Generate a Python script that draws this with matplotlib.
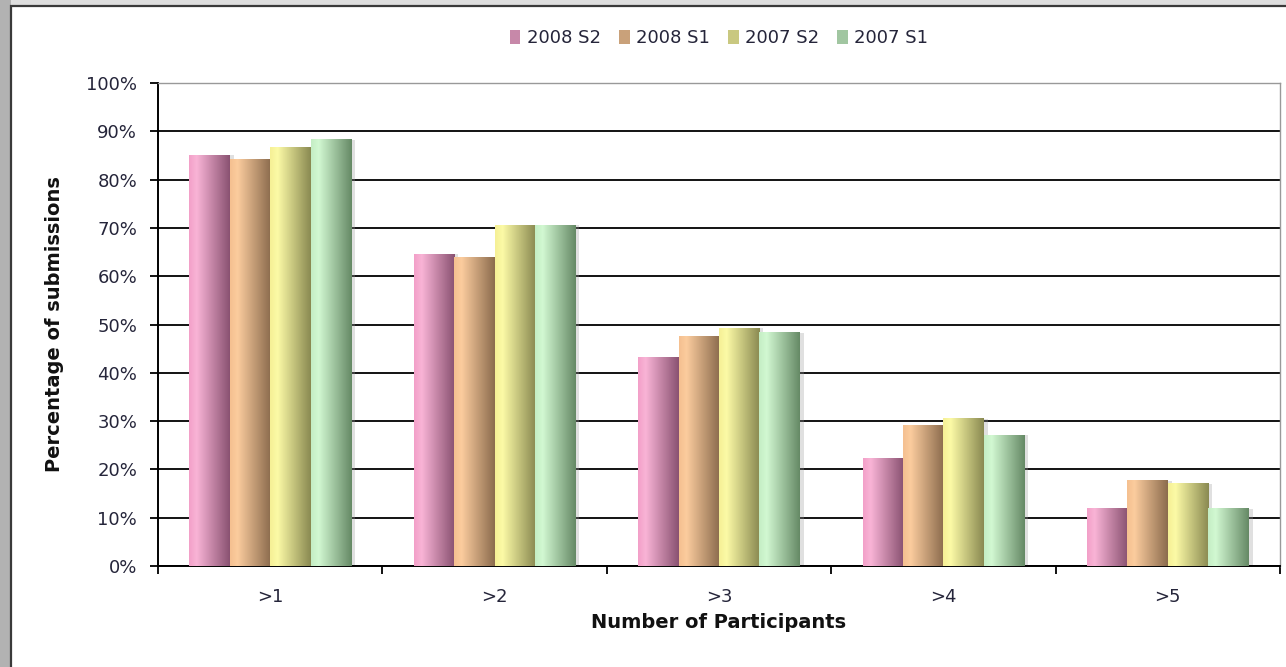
import numpy as np
import matplotlib
matplotlib.use('Agg')
import matplotlib.pyplot as plt
from matplotlib.colors import LinearSegmentedColormap
from matplotlib.patches import Rectangle
from matplotlib.ticker import FuncFormatter

categories = ['>1', '>2', '>3', '>4', '>5']
series = ['2008 S2', '2008 S1', '2007 S2', '2007 S1']
s2008_2 = [85.0, 64.5, 43.2, 22.2, 11.9]
s2008_1 = [84.2, 63.9, 47.5, 29.0, 17.7]
s2007_2 = [86.6, 70.5, 49.2, 30.5, 17.0]
s2007_1 = [88.3, 70.5, 48.3, 27.1, 11.9]

# edge, lightest, dark for each series
light = ['#f2a0c8', '#f5c090', '#f5f096', '#c4eec4']
lite2 = ['#f9b4d6', '#fbcc9e', '#fcfaa6', '#d2f8d2']
dark = ['#8a5272', '#8c6c4e', '#8a8a52', '#668a66']
txt = '#25253a'

W, H = 1286, 667
fig = plt.figure(figsize=(W/100, H/100), dpi=100)
fig.patch.set_facecolor('#dedede')

# white chart panel with dark border, grey strip on the left
fig.patches.append(Rectangle((0, 0), 11/W, 1, transform=fig.transFigure, facecolor='#b2b2b2', edgecolor='none', zorder=-2))
fig.patches.append(Rectangle((11/W, -0.1), 1.2, 1 - 6/H + 0.1, transform=fig.transFigure,
                             facecolor='white', edgecolor='#3a3a3a', linewidth=1.6, zorder=-1))

ax = fig.add_axes([158/W, 1 - 566/H, (1280-158)/W, (566-83)/H])
ax.set_zorder(2)
ax.set_facecolor('none')

x = np.arange(len(categories))
bw = 0.18
data = [s2008_2, s2008_1, s2007_2, s2007_1]
cmaps = []
for i, vals in enumerate(data):
    off = (i - 1.5) * bw
    # soft shadow
    ax.bar(x + off + 0.018, vals, bw, color='#9a9a9a', alpha=0.3, zorder=2.5, linewidth=0)
    bars = ax.bar(x + off, vals, bw, facecolor='none', edgecolor='none', zorder=3)
    cmap = LinearSegmentedColormap.from_list('c%d' % i, [(0, light[i]), (0.18, lite2[i]), (1, dark[i])])
    cmaps.append(cmap)
    grad = np.linspace(0, 1, 64).reshape(1, -1)
    for b in bars:
        bx, by = b.get_x(), b.get_y()
        ax.imshow(grad, extent=[bx, bx + b.get_width(), by, by + b.get_height()],
                  cmap=cmap, aspect='auto', zorder=3, interpolation='bilinear')

ax.set_xlim(-0.5, len(categories) - 0.5)
ax.set_ylim(0, 100)
ax.set_yticks(np.arange(0, 101, 10))
ax.yaxis.set_major_formatter(FuncFormatter(lambda v, p: '%d%%' % v))
ax.yaxis.grid(True, color='black', linewidth=1.3, zorder=1)
ax.set_axisbelow(True)

ax.set_xticks(x)
ax.set_xticklabels(categories)
ax.set_xticks(np.arange(-0.5, len(categories), 1), minor=True)
ax.tick_params(axis='x', which='major', length=0, pad=16, labelsize=13, labelcolor=txt)
ax.tick_params(axis='x', which='minor', length=6, width=1.3, direction='out', color='black')
ax.tick_params(axis='y', length=6, width=1.3, direction='out', pad=9, labelsize=13, labelcolor=txt)

ax.spines['left'].set_linewidth(1.4)
ax.spines['bottom'].set_linewidth(1.4)
ax.spines['top'].set_color('#999999')
ax.spines['right'].set_color('#999999')
ax.spines['top'].set_linewidth(1)
ax.spines['right'].set_linewidth(1)

ax.set_ylabel('Percentage of submissions', fontsize=14, fontweight='bold', color='#111111')
ax.set_xlabel('Number of Participants', fontsize=14, fontweight='bold', color='#111111')
ax.yaxis.set_label_coords((64 - 158) / (1280 - 158), 0.5)
ax.xaxis.set_label_coords(0.5, (566 - 613) / (566 - 83))

handles = [Rectangle((0, 0), 1, 1, facecolor=cmaps[i](0.55), edgecolor='none') for i in range(4)]
leg = ax.legend(handles, series, loc='center', bbox_to_anchor=(0.5, 1 + (83 - 38) / (566 - 83)),
                ncol=4, frameon=False, fontsize=13, handlelength=0.6, handleheight=0.85,
                handletextpad=0.35, columnspacing=1.0)
for t in leg.get_texts():
    t.set_color(txt)

fig.savefig('out.png', dpi=100, facecolor=fig.get_facecolor())
